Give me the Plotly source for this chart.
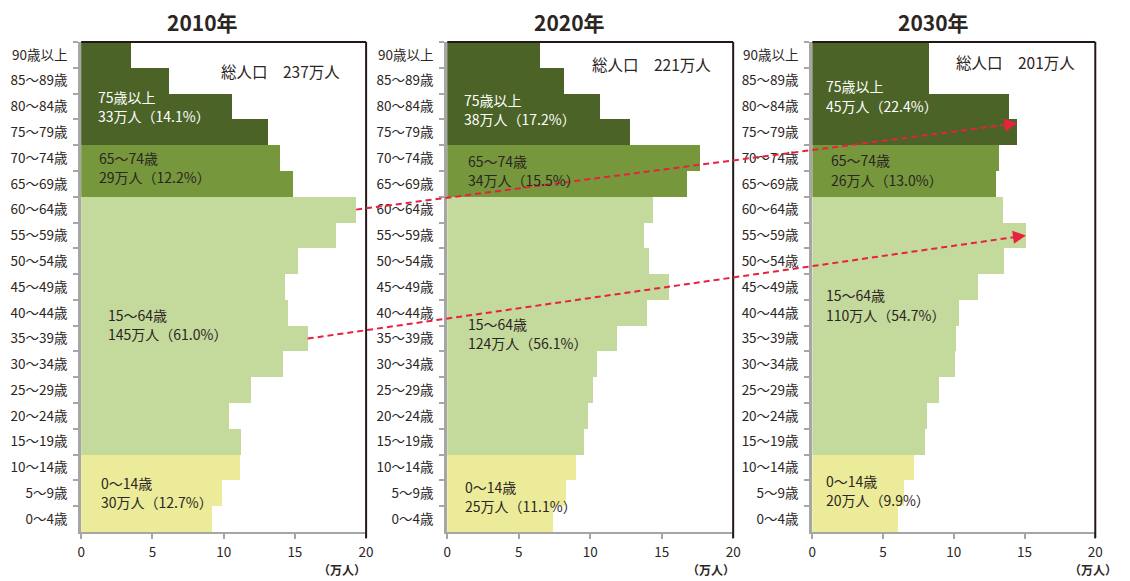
import plotly.graph_objects as go

# ---- data -------------------------------------------------------------
age_groups = [
    "0～4歳", "5～9歳", "10～14歳", "15～19歳", "20～24歳", "25～29歳",
    "30～34歳", "35～39歳", "40～44歳", "45～49歳", "50～54歳", "55～59歳",
    "60～64歳", "65～69歳", "70～74歳", "75～79歳", "80～84歳", "85～89歳",
    "90歳以上",
]
years = ["2010年", "2020年", "2030年"]

# population by 5-year age group (万人), youngest first
pop_2010 = [9.2, 9.9, 11.15, 11.2, 10.4, 11.9, 14.2, 15.9, 14.5, 14.3,
            15.2, 17.9, 19.3, 14.9, 14.0, 13.1, 10.6, 6.2, 3.5]
pop_2020 = [7.4, 8.3, 9.0, 9.6, 9.85, 10.2, 10.5, 11.9, 14.0, 15.5,
            14.1, 13.8, 14.4, 16.8, 17.7, 12.8, 10.7, 8.2, 6.5]
pop_2030 = [6.1, 6.5, 7.2, 8.0, 8.1, 9.0, 10.1, 10.2, 10.4, 11.7,
            13.6, 15.1, 13.5, 13.0, 13.2, 14.5, 13.9, 8.3, 8.3]
populations = [pop_2010, pop_2020, pop_2030]

total_labels = ["総人口　237万人", "総人口　221万人", "総人口　201万人"]
band_names = ["75歳以上", "65～74歳", "15～64歳", "0～14歳"]
band_figures = [
    ["33万人（14.1%）", "29万人（12.2%）", "145万人（61.0%）", "30万人（12.7%）"],
    ["38万人（17.2%）", "34万人（15.5%）", "124万人（56.1%）", "25万人（11.1%）"],
    ["45万人（22.4%）", "26万人（13.0%）", "110万人（54.7%）", "20万人（9.9%）"],
]
# cohort arrows: (age group in 2010, age group in 2030)
cohort_links = [("60～64歳", "75～79歳"), ("35～39歳", "55～59歳")]

# ---- styling ----------------------------------------------------------
W, H = 1130, 581
FONT = "Noto Sans CJK JP"
TEXT = "#2b2523"
AXIS_GRAY = "#a6a6a6"
FRAME = "#231815"
RED = "#e8213f"
COL_OLD = "#4b6327"
COL_YOUNGOLD = "#76973c"
COL_WORK = "#c4d99c"
COL_CHILD = "#ebeb99"

x_domains_px = [(78, 366), (448, 737), (817, 1103)]
y_dom = (1 - 532 / H, 1 - 42 / H)
XMAX = 20
n_rows = len(age_groups)


def band_color(i):
    if i <= 2:
        return COL_CHILD
    if i <= 12:
        return COL_WORK
    if i <= 14:
        return COL_YOUNGOLD
    return COL_OLD


bar_colors = [band_color(i) for i in range(n_rows)]

# label placement inside each panel: (x, row position) for the two lines
band_pos = [
    [(1.04, 16.36, 15.64), (1.10, 14.0, 13.26), (1.74, 7.91, 7.17), (1.25, 1.40, 0.66)],
    [(1.06, 16.24, 15.50), (1.34, 13.88, 13.16), (1.34, 7.56, 6.83), (1.13, 1.24, 0.50)],
    [(0.86, 16.79, 16.02), (1.21, 13.92, 13.14), (0.86, 8.69, 7.91), (0.86, 1.48, 0.74)],
]
total_pos = [(9.65, 17.37), (10.0, 17.64), (10.0, 17.72)]
band_text_color = ["white", TEXT, TEXT, TEXT]
unit_shift = [2, 4, 24]

fig = go.Figure()
layout_axes = {}
annotations = []
shapes = []

for k in range(3):
    sfx = "" if k == 0 else str(k + 1)
    xa, ya = "x" + sfx, "y" + sfx
    x0, x1 = x_domains_px[k]
    fig.add_trace(go.Bar(
        x=populations[k], y=age_groups, orientation="h",
        marker=dict(color=bar_colors, line=dict(width=0)),
        xaxis=xa, yaxis=ya, showlegend=False, hoverinfo="x+y",
    ))
    layout_axes["xaxis" + sfx] = dict(
        domain=[x0 / W, x1 / W], range=[0, XMAX], anchor=ya,
        tickvals=[0, 5, 10, 15, 20], ticks="outside", ticklen=5,
        tickcolor=AXIS_GRAY, tickwidth=2, showline=True, linecolor=AXIS_GRAY,
        linewidth=2, showgrid=False, zeroline=False, ticklabelstandoff=2,
        tickfont=dict(family=FONT, size=13.5, color=TEXT), fixedrange=True,
    )
    layout_axes["yaxis" + sfx] = dict(
        domain=list(y_dom), anchor=xa, type="category",
        categoryorder="array", categoryarray=age_groups,
        range=[-0.5, n_rows - 0.5], ticks="outside", ticklen=5,
        tickcolor=AXIS_GRAY, tickwidth=2, tickson="boundaries",
        showline=True, linecolor=AXIS_GRAY, linewidth=3, showgrid=False,
        zeroline=False, ticklabelstandoff=8,
        tickfont=dict(family=FONT, size=13.5, color=TEXT), fixedrange=True,
    )
    # dark frame on top and right
    shapes.append(dict(type="line", xref=xa + " domain", yref=ya + " domain",
                       x0=0, x1=1, y0=1, y1=1,
                       line=dict(color=FRAME, width=2)))
    shapes.append(dict(type="line", xref=xa + " domain", yref=ya + " domain",
                       x0=1, x1=1, y0=-0.012, y1=1,
                       line=dict(color=FRAME, width=2)))
    # year title
    annotations.append(dict(
        text="<b>%s</b>" % years[k], xref="paper", yref="paper",
        x=((x0 + x1) / 2 - 21) / W, y=1 - 22 / H, showarrow=False,
        xanchor="center", yanchor="middle",
        font=dict(family=FONT, size=21, color=TEXT)))
    # total population
    tx, ty = total_pos[k]
    annotations.append(dict(
        text=total_labels[k], xref=xa, yref=ya, x=tx, y=ty, showarrow=False,
        xanchor="left", yanchor="middle",
        font=dict(family=FONT, size=15.5, color=TEXT)))
    # band labels
    for b in range(4):
        bx, by1, by2 = band_pos[k][b]
        for txt, by in ((band_names[b], by1), (band_figures[k][b], by2)):
            annotations.append(dict(
                text=txt, xref=xa, yref=ya, x=bx, y=by, showarrow=False,
                xanchor="left", yanchor="middle",
                font=dict(family=FONT, size=14, color=band_text_color[b])))
    # unit label
    annotations.append(dict(
        text="<b>（万人）</b>", xref="paper", yref="paper",
        x=x1 / W, y=0, showarrow=False, xanchor="right",
        xshift=unit_shift[k], yanchor="bottom", yshift=1,
        font=dict(family=FONT, size=12, color=TEXT)))


# ---- cohort arrows from 2010 to 2030 ----------------------------------
def bar_end_px(panel, group):
    i = age_groups.index(group)
    x0, x1 = x_domains_px[panel]
    v = populations[panel][i]
    px = x0 + v / XMAX * (x1 - x0)
    top, bottom = 42, 532
    py = bottom - (i + 0.5) * (bottom - top) / n_rows
    return px, py


end_lift = [9, 0]
for j, (g_from, g_to) in enumerate(cohort_links):
    sx, sy = bar_end_px(0, g_from)
    ex, ey = bar_end_px(2, g_to)
    ey -= end_lift[j]
    dx, dy = ex - sx, ey - sy
    length = (dx ** 2 + dy ** 2) ** 0.5
    ux, uy = dx / length, dy / length
    shapes.append(dict(type="line", xref="paper", yref="paper",
                       x0=sx / W, y0=1 - sy / H,
                       x1=(ex - 8 * ux) / W, y1=1 - (ey - 8 * uy) / H,
                       line=dict(color=RED, width=2, dash="6px,4px")))
    annotations.append(dict(
        text="", xref="paper", yref="paper", x=ex / W, y=1 - ey / H,
        ax=-14 * ux, ay=-14 * uy, axref="pixel", ayref="pixel",
        showarrow=True, arrowhead=2, arrowsize=1.3, arrowwidth=2,
        arrowcolor=RED, standoff=0))

fig.update_layout(
    width=W, height=H, margin=dict(l=0, r=0, t=0, b=0),
    paper_bgcolor="white", plot_bgcolor="white",
    bargap=0, barmode="overlay", showlegend=False,
    font=dict(family=FONT, color=TEXT),
    annotations=annotations, shapes=shapes, **layout_axes,
)

fig.write_html("out.html")
